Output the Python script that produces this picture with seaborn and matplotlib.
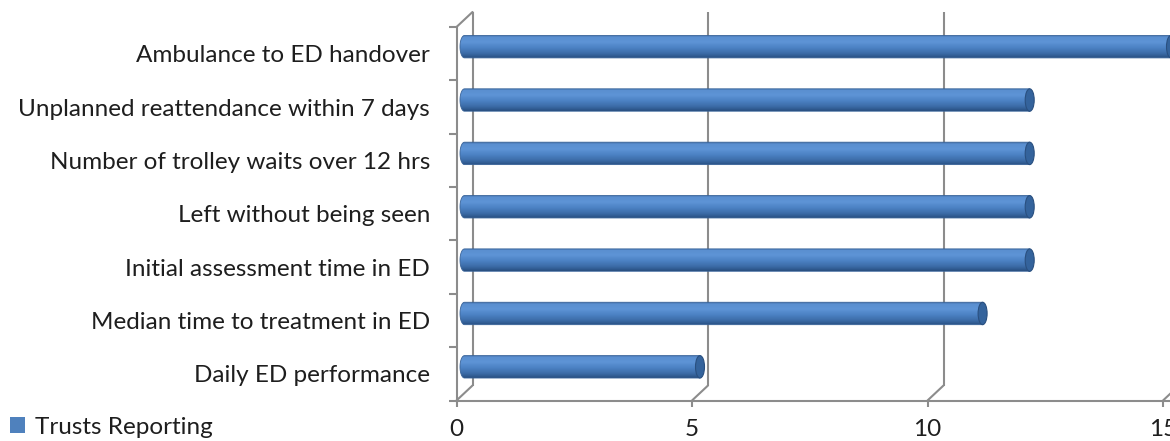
import numpy as np
import pandas as pd
import matplotlib
matplotlib.use("Agg")
import matplotlib.pyplot as plt
import matplotlib.patches as mpatches
from matplotlib.path import Path
from matplotlib.transforms import ScaledTranslation
from matplotlib.colors import LinearSegmentedColormap
import seaborn as sns

# ---- data -------------------------------------------------------------
categories = [
    "Ambulance to ED handover",
    "Unplanned reattendance within 7 days",
    "Number of trolley waits over 12 hrs",
    "Left without being seen",
    "Initial assessment time in ED",
    "Median time to treatment in ED",
    "Daily ED performance",
]
trusts_reporting = [15, 12, 12, 12, 12, 11, 5]
x_ticks = [0, 5, 10, 15]
series_name = "Trusts Reporting"

# ---- style ------------------------------------------------------------
sns.set_theme(style="white")
plt.rcParams["font.family"] = ["Lato", "DejaVu Sans"]

GRID = "#8c8c8c"
TEXT = "#1e1e1e"
BAR = "#4f81bd"
LINE_W = 1.5
FS = 17.5

W, H, DPI = 11.7, 4.41, 100
fig = plt.figure(figsize=(W, H), dpi=DPI)
fig.patch.set_facecolor("white")

# front plane of the 3-D box (pixels): left 457, bottom 400.5, top 27
left_px, bottom_px, top_px, right_px = 456.5, 400.5, 27, 1170
ax = fig.add_axes([left_px / 1170, (441 - bottom_px) / 441,
                   (right_px - left_px) / 1170, (bottom_px - top_px) / 441])
ax.set_facecolor("none")

df = pd.DataFrame({"measure": categories, "value": trusts_reporting})
sns.barplot(data=df, x="value", y="measure", orient="h", width=0.42,
            color=BAR, ax=ax, zorder=2)

ppx = 47.1                        # pixels per unit on x
xmax = (right_px - left_px) / ppx
ax.set_xlim(0, xmax)
ax.set_ylim(len(categories) - 0.5, -0.5)
ax.autoscale(False)
ppy = (bottom_px - top_px) / len(categories)

# depth offsets: bars sit mid-depth, gridlines on the back wall
bar_off = ax.transData + ScaledTranslation(8 / DPI, 7 / DPI, fig.dpi_scale_trans)
back_off = ax.transData + ScaledTranslation(16 / DPI, 15 / DPI, fig.dpi_scale_trans)

# ---- back wall / floor / side wall ------------------------------------
y0, y1 = -0.5, len(categories) - 0.5
for xv in x_ticks:
    ax.plot([xv, xv], [y0, y1], color=GRID, lw=LINE_W, transform=back_off,
            clip_on=False, zorder=0, solid_capstyle="butt")
    # floor diagonal from front axis to back wall
    ax.plot([xv, xv + 16 / ppx], [y1, y1 - 15 / ppy], color=GRID, lw=LINE_W,
            clip_on=False, zorder=0)
# top diagonal of the side wall
ax.plot([0, 16 / ppx], [y0, y0 - 15 / ppy], color=GRID, lw=LINE_W,
        clip_on=False, zorder=0)

# ---- cylinders --------------------------------------------------------
cyl = LinearSegmentedColormap.from_list(
    "cyl",
    [(0.0, "#3e6aa2"), (0.08, "#5a8fd0"), (0.3, "#5e94d6"),
     (0.55, "#4c82c4"), (0.8, "#3c6ca8"), (0.93, "#2f5a90"), (1.0, "#284d7c")])
grad = np.linspace(0, 1, 64).reshape(-1, 1)
rx = 4.5 / ppx                    # end-cap half width in data units

for bar in list(ax.patches):
    x0, yt = bar.get_x(), bar.get_y()
    w, h = bar.get_width(), bar.get_height()
    x1, yb, yc = x0 + w, yt + h, yt + h / 2
    bar.set_visible(False)

    # body outline: flat top/bottom, rounded on the left
    th = np.linspace(np.pi / 2, 3 * np.pi / 2, 30)
    arc = np.column_stack([x0 + rx * np.cos(th), yc - (h / 2) * np.sin(th)])
    verts = np.vstack([[[x0, yt], [x1, yt], [x1, yb], [x0, yb]], arc[::-1][1:],
                       [[x0, yt]]])
    body = mpatches.PathPatch(Path(verts), transform=bar_off, facecolor="none",
                              edgecolor="#39649a", lw=0.6, zorder=3,
                              clip_on=False)
    im = ax.imshow(grad, cmap=cyl, aspect="auto", origin="upper",
                   extent=(x0 - rx, x1, yb, yt), zorder=2, interpolation="bilinear")
    im.set_transform(bar_off)
    im.set_clip_path(body)
    ax.add_patch(body)

    # far end face
    cap = mpatches.Ellipse((x1, yc), 2 * rx, h, transform=bar_off,
                           facecolor="#34639c", edgecolor="#2a5080", lw=0.8,
                           zorder=4, clip_on=False)
    ax.add_patch(cap)

ax.set_xlim(0, xmax)
ax.set_ylim(len(categories) - 0.5, -0.5)

# ---- axes -------------------------------------------------------------
for s in ("top", "right"):
    ax.spines[s].set_visible(False)
for s in ("left", "bottom"):
    ax.spines[s].set_color(GRID)
    ax.spines[s].set_linewidth(LINE_W)
    ax.spines[s].set_zorder(1)

ax.set_xticks(x_ticks)
ax.set_xticklabels([str(v) for v in x_ticks], fontsize=FS, color=TEXT)
ax.tick_params(axis="x", which="major", bottom=True, length=4, width=LINE_W,
               color=GRID, pad=9.5, direction="out")

ax.set_yticks(range(len(categories)))
ax.set_yticklabels(categories, fontsize=FS, color=TEXT)
ax.set_yticks(np.arange(-0.5, len(categories), 1.0), minor=True)
ax.tick_params(axis="y", which="major", left=False, length=0, pad=19)
ax.tick_params(axis="y", which="minor", left=True, length=6, width=LINE_W,
               color=GRID, direction="out")
ax.set_xlabel("")
ax.set_ylabel("")
ax.grid(False)

# ---- legend -----------------------------------------------------------
handle = mpatches.Patch(facecolor=BAR, edgecolor="none", label=series_name)
fig.legend(handles=[handle], loc="center left",
           bbox_to_anchor=(10 / 1170, 1 - 427 / 441), frameon=False,
           fontsize=FS, handlelength=0.62, handleheight=0.62,
           handletextpad=0.42, borderpad=0, borderaxespad=0,
           labelcolor=TEXT)

fig.savefig("out.png", dpi=DPI, facecolor="white")
